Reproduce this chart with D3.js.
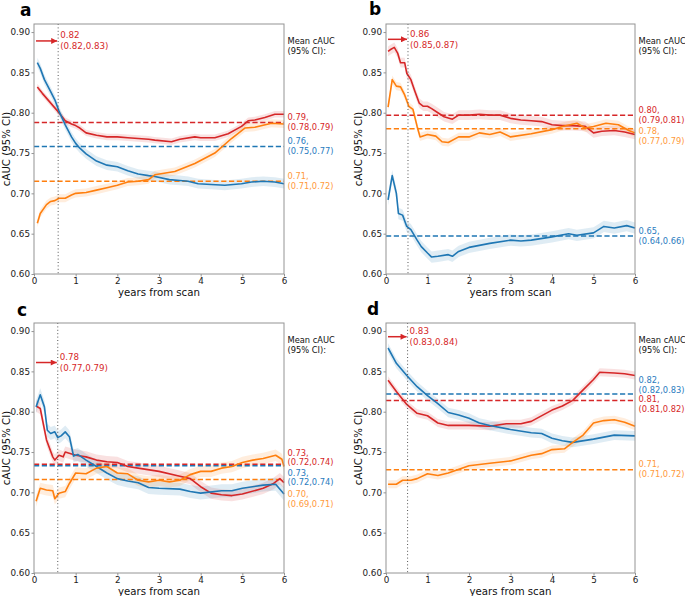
<!DOCTYPE html>
<html><head><meta charset="utf-8">
<script src="https://cdn.jsdelivr.net/npm/d3@7"></script>
<style>body{margin:0;background:#fff}svg{display:block}text{font-family:"DejaVu Sans",sans-serif}</style>
</head><body><svg id="chart" width="685" height="596"></svg>
<script>
// ---------- data ----------
const yTicks = [0.60, 0.65, 0.70, 0.75, 0.80, 0.85, 0.90];
const xTicks = [0, 1, 2, 3, 4, 5, 6];
const panelLetters = ["a", "b", "c", "d"];
const seriesNames = ["red", "blue", "orange"];
const seriesColors = ["#d62728", "#1f77b4", "#ff7f0e"];
const labelColors = ["#d62728", "#2a7cc0", "#ff9a3c"];

// panel a
const aRedX = [0.08,0.2,0.35,0.5,0.6,0.75,0.9,1.0,1.1,1.25,1.5,1.75,2.0,2.25,2.5,2.75,2.9,3.3,3.5,3.86,4.0,4.34,4.66,4.98,5.14,5.3,5.54,5.78,6.0];
const aRedY = [0.832,0.824,0.815,0.806,0.800,0.790,0.786,0.784,0.781,0.775,0.772,0.770,0.770,0.769,0.768,0.767,0.766,0.764,0.767,0.770,0.769,0.769,0.774,0.783,0.790,0.791,0.794,0.798,0.798];
const aBlueX = [0.08,0.15,0.25,0.4,0.5,0.6,0.75,0.9,1.0,1.1,1.25,1.5,1.75,2.0,2.25,2.5,2.75,2.9,3.25,3.5,3.7,3.94,4.25,4.58,4.98,5.22,5.5,5.78,6.0];
const aBlueY = [0.862,0.855,0.841,0.826,0.816,0.802,0.785,0.770,0.762,0.756,0.749,0.740,0.735,0.733,0.728,0.724,0.722,0.721,0.717,0.716,0.715,0.712,0.711,0.710,0.712,0.714,0.715,0.714,0.712];
const aOrangeX = [0.08,0.15,0.3,0.4,0.5,0.6,0.75,0.9,1.0,1.25,1.5,1.75,2.0,2.25,2.5,2.75,2.9,3.38,3.86,4.34,4.74,5.06,5.3,5.7,6.0];
const aOrangeY = [0.663,0.675,0.686,0.690,0.691,0.694,0.694,0.698,0.700,0.701,0.704,0.707,0.710,0.714,0.715,0.717,0.723,0.727,0.737,0.750,0.768,0.781,0.782,0.787,0.786];
const aMeans = [0.788, 0.758, 0.715];
const aMeanText = [["0.79,", "(0.78,0.79)"], ["0.76,", "(0.75,0.77)"], ["0.71,", "(0.71,0.72)"]];
const aBest = ["0.82", "(0.82,0.83)"];

// panel b
const bRedX = [0.05,0.1,0.2,0.28,0.35,0.45,0.5,0.6,0.7,0.8,0.9,1.0,1.1,1.25,1.4,1.6,1.75,2.0,2.25,2.5,2.75,3.0,3.25,3.5,3.75,4.0,4.25,4.5,4.8,5.0,5.2,5.5,5.75,6.0];
const bRedY = [0.876,0.878,0.881,0.874,0.862,0.862,0.849,0.841,0.826,0.812,0.808,0.808,0.805,0.800,0.795,0.792,0.797,0.797,0.798,0.797,0.797,0.793,0.791,0.790,0.789,0.785,0.784,0.784,0.783,0.775,0.777,0.778,0.776,0.773];
const bBlueX = [0.05,0.15,0.25,0.3,0.4,0.5,0.6,0.75,0.85,1.0,1.1,1.25,1.5,1.6,1.75,2.0,2.5,3.0,3.25,3.5,4.0,4.4,4.6,5.0,5.25,5.5,5.8,6.0];
const bBlueY = [0.692,0.722,0.700,0.675,0.673,0.659,0.655,0.642,0.634,0.626,0.621,0.622,0.624,0.622,0.628,0.633,0.638,0.642,0.641,0.642,0.646,0.650,0.648,0.651,0.659,0.657,0.660,0.657];
const bOrangeX = [0.05,0.15,0.25,0.35,0.45,0.55,0.65,0.75,0.82,1.0,1.2,1.35,1.5,1.75,2.0,2.25,2.5,2.75,3.0,3.5,4.0,4.25,4.6,4.8,5.0,5.3,5.6,5.85,6.0];
const bOrangeY = [0.807,0.841,0.833,0.832,0.822,0.808,0.804,0.783,0.770,0.773,0.771,0.764,0.763,0.770,0.770,0.775,0.773,0.776,0.770,0.774,0.779,0.783,0.787,0.781,0.783,0.787,0.785,0.778,0.775];
const bMeans = [0.797, 0.647, 0.780];
const bMeanText = [["0.80,", "(0.79,0.81)"], ["0.65,", "(0.64,0.66)"], ["0.78,", "(0.77,0.79)"]];
const bBest = ["0.86", "(0.85,0.87)"];

// panel c
const cRedX = [0.05,0.15,0.3,0.45,0.5,0.6,0.7,0.75,1.0,1.25,1.5,1.75,2.0,2.25,2.5,3.0,3.5,3.75,4.0,4.25,4.5,4.75,5.0,5.5,5.75,5.9,6.0];
const cRedY = [0.807,0.804,0.765,0.744,0.740,0.746,0.744,0.750,0.746,0.744,0.740,0.738,0.737,0.732,0.730,0.726,0.720,0.717,0.707,0.699,0.697,0.696,0.698,0.705,0.711,0.717,0.712];
const cBlueX = [0.05,0.15,0.25,0.32,0.4,0.5,0.57,0.65,0.75,0.85,0.95,1.05,1.25,1.5,1.75,2.0,2.25,2.5,2.75,3.0,3.5,3.75,4.0,4.5,4.75,5.0,5.5,5.8,6.0];
const cBlueY = [0.806,0.821,0.806,0.777,0.773,0.775,0.768,0.770,0.775,0.769,0.745,0.747,0.740,0.732,0.724,0.717,0.714,0.712,0.706,0.705,0.704,0.701,0.699,0.702,0.702,0.705,0.709,0.710,0.698];
const cOrangeX = [0.05,0.15,0.3,0.45,0.5,0.6,0.75,0.85,1.0,1.25,1.5,1.75,2.0,2.25,2.5,2.75,3.0,3.25,3.5,3.75,4.0,4.25,4.5,4.75,5.0,5.25,5.5,5.8,5.95,6.0];
const cOrangeY = [0.689,0.705,0.703,0.702,0.692,0.699,0.701,0.711,0.724,0.723,0.730,0.732,0.724,0.723,0.715,0.713,0.715,0.713,0.715,0.722,0.726,0.726,0.730,0.732,0.737,0.740,0.742,0.746,0.741,0.732];
const cMeans = [0.735, 0.733, 0.716];
const cMeanText = [["0.73,", "(0.72,0.74)"], ["0.73,", "(0.72,0.74)"], ["0.70,", "(0.69,0.71)"]];
const cBest = ["0.78", "(0.77,0.79)"];

// panel d
const dRedX = [0.05,0.25,0.5,0.75,1.0,1.25,1.5,2.0,2.5,2.9,3.25,3.5,4.0,4.25,4.5,4.75,5.0,5.15,5.5,5.75,6.0];
const dRedY = [0.839,0.825,0.809,0.798,0.795,0.786,0.783,0.783,0.782,0.785,0.785,0.788,0.802,0.807,0.814,0.827,0.840,0.849,0.848,0.847,0.845];
const dBlueX = [0.05,0.25,0.5,0.75,1.0,1.25,1.5,1.75,2.0,2.25,2.5,3.0,3.5,3.75,4.0,4.25,4.5,5.0,5.5,6.0];
const dBlueY = [0.879,0.860,0.845,0.831,0.820,0.810,0.799,0.796,0.792,0.786,0.783,0.778,0.774,0.773,0.767,0.764,0.762,0.766,0.771,0.770];
const dOrangeX = [0.05,0.25,0.4,0.6,0.75,1.0,1.25,1.5,2.0,2.5,3.0,3.5,3.75,4.0,4.3,4.5,4.75,5.0,5.25,5.5,5.75,6.0];
const dOrangeY = [0.710,0.710,0.715,0.715,0.717,0.723,0.721,0.724,0.733,0.736,0.739,0.746,0.748,0.753,0.754,0.762,0.771,0.786,0.789,0.790,0.787,0.782];
const dMeans = [0.814, 0.822, 0.728];
const dMeanText = [["0.81,", "(0.81,0.82)"], ["0.82,", "(0.82,0.83)"], ["0.71,", "(0.71,0.72)"]];
const dBest = ["0.83", "(0.83,0.84)"];

// CI half-widths (red, blue, orange) and marker positions per panel
const ciHalf = [[0.004,0.006,0.005],[0.006,0.007,0.005],[0.007,0.008,0.007],[0.005,0.006,0.005]];
const vlineX = [0.58, 0.53, 0.57, 0.52];
const arrowY = [0.889, 0.891, 0.861, 0.893];

// ---------- layout ----------
const layout = [
  {ox:34, oy:24, w:250, letterX:20, letterY:16, labelOff:[-5,-5,-5]},
  {ox:386, oy:24, w:249, letterX:369, letterY:15, labelOff:[-5,-5,2.5]},
  {ox:34, oy:323, w:250, letterX:17, letterY:316, labelOff:[-11.5,7,15]},
  {ox:386, oy:323, w:249, letterX:367, letterY:315, labelOff:[-1,-13.5,-5.5]}
];
const H = 250;

const panelData = [
  {xs:[aRedX,aBlueX,aOrangeX], ys:[aRedY,aBlueY,aOrangeY], means:aMeans, meanText:aMeanText, best:aBest},
  {xs:[bRedX,bBlueX,bOrangeX], ys:[bRedY,bBlueY,bOrangeY], means:bMeans, meanText:bMeanText, best:bBest},
  {xs:[cRedX,cBlueX,cOrangeX], ys:[cRedY,cBlueY,cOrangeY], means:cMeans, meanText:cMeanText, best:cBest},
  {xs:[dRedX,dBlueX,dOrangeX], ys:[dRedY,dBlueY,dOrangeY], means:dMeans, meanText:dMeanText, best:dBest}
];

const svg = d3.select("#chart");
const defs = svg.append("defs");
defs.append("marker").attr("id","arrowhead").attr("viewBox","0 0 10 10")
  .attr("refX",10).attr("refY",5).attr("markerWidth",7).attr("markerHeight",6)
  .attr("markerUnits","userSpaceOnUse").attr("orient","auto")
  .append("path").attr("d","M0,0 L10,5 L0,10 z").attr("fill","#d62728");

const spine = "#949494";

panelData.forEach((pd, i) => {
  const L = layout[i];
  const x = d3.scaleLinear().domain([0, 6]).range([0, L.w]);
  const y = d3.scaleLinear().domain([0.60, 0.91]).range([H, 0]);
  const g = svg.append("g").attr("transform", `translate(${L.ox},${L.oy})`);

  // CI bands
  pd.xs.forEach((xs, s) => {
    const pts = xs.map((xv, k) => [xv, pd.ys[s][k]]);
    const area = d3.area().x(d => x(d[0])).y0(d => y(d[1] - ciHalf[i][s])).y1(d => y(d[1] + ciHalf[i][s]));
    g.append("path").attr("d", area(pts)).attr("fill", seriesColors[s]).attr("fill-opacity", 0.14);
  });

  // mean dashed lines
  pd.means.forEach((m, s) => {
    g.append("line").attr("x1", 0).attr("x2", L.w).attr("y1", y(m)).attr("y2", y(m))
      .attr("stroke", seriesColors[s]).attr("stroke-width", 1.5).attr("stroke-dasharray", "5.2,2.6");
  });

  // series lines
  pd.xs.forEach((xs, s) => {
    const pts = xs.map((xv, k) => [xv, pd.ys[s][k]]);
    const line = d3.line().x(d => x(d[0])).y(d => y(d[1]));
    g.append("path").attr("d", line(pts)).attr("fill", "none")
      .attr("stroke", seriesColors[s]).attr("stroke-width", 1.6).attr("stroke-linejoin", "round");
  });

  // vertical dotted line
  g.append("line").attr("x1", x(vlineX[i])).attr("x2", x(vlineX[i])).attr("y1", 0).attr("y2", H)
    .attr("stroke", "#555").attr("stroke-width", 1).attr("stroke-dasharray", "1,2.4");

  // arrow + best text
  g.append("line").attr("x1", 2).attr("x2", x(vlineX[i]) - 1).attr("y1", y(arrowY[i])).attr("y2", y(arrowY[i]))
    .attr("stroke", "#d62728").attr("stroke-width", 1.5).attr("marker-end", "url(#arrowhead)");
  pd.best.forEach((t, r) => {
    g.append("text").attr("x", x(vlineX[i]) + 2).attr("y", y(arrowY[i]) + (r === 0 ? -5.5 : 5.5))
      .attr("dy", "0.35em").attr("font-size", 8.7).attr("fill", "#d62728").text(t);
  });

  // spines
  g.append("rect").attr("x", 0).attr("y", 0).attr("width", L.w).attr("height", H)
    .attr("fill", "none").attr("stroke", spine).attr("stroke-width", 1);

  // axes
  const yAxis = d3.axisLeft(y).tickValues(yTicks).tickFormat(d3.format(".2f")).tickSize(2.5).tickPadding(1.5);
  const gy = g.append("g").call(yAxis);
  const xAxis = d3.axisBottom(x).tickValues(xTicks).tickFormat(d3.format("d")).tickSize(2.5).tickPadding(1.5);
  const gx = g.append("g").attr("transform", `translate(0,${H})`).call(xAxis);
  [gy, gx].forEach(ax => {
    ax.select(".domain").remove();
    ax.selectAll(".tick line").attr("stroke", spine);
    ax.selectAll(".tick text").attr("font-size", 8.8).attr("fill", "#222").attr("font-family", "DejaVu Sans");
  });

  // axis titles
  g.append("text").attr("transform", `translate(${-24},${H / 2}) rotate(-90)`).attr("text-anchor", "middle")
    .attr("font-size", 10.2).attr("fill", "#111").text("cAUC (95% CI)");
  g.append("text").attr("x", L.w / 2).attr("y", H + 22).attr("text-anchor", "middle")
    .attr("font-size", 10.2).attr("fill", "#111").text("years from scan");

  // right-hand labels
  const rx = L.w + 3.5;
  g.append("text").attr("x", rx).attr("y", y(0.889)).attr("dy", "0.35em").attr("font-size", 8.3).attr("fill", "#111").text("Mean cAUC");
  g.append("text").attr("x", rx).attr("y", y(0.889) + 10).attr("dy", "0.35em").attr("font-size", 8.3).attr("fill", "#111").text("(95% CI):");
  pd.meanText.forEach((rows, s) => {
    const base = y(pd.means[s]) + L.labelOff[s];
    rows.forEach((t, r) => {
      g.append("text").attr("x", rx).attr("y", base + r * 9.5).attr("dy", "0.35em")
        .attr("font-size", 8.3).attr("fill", labelColors[s]).text(t);
    });
  });

  // panel letter
  svg.append("text").attr("x", L.letterX).attr("y", L.letterY).attr("font-family", "Liberation Sans")
    .attr("font-weight", "bold").attr("font-size", 17).attr("fill", "#000").text(panelLetters[i]);
});
</script></body></html>
